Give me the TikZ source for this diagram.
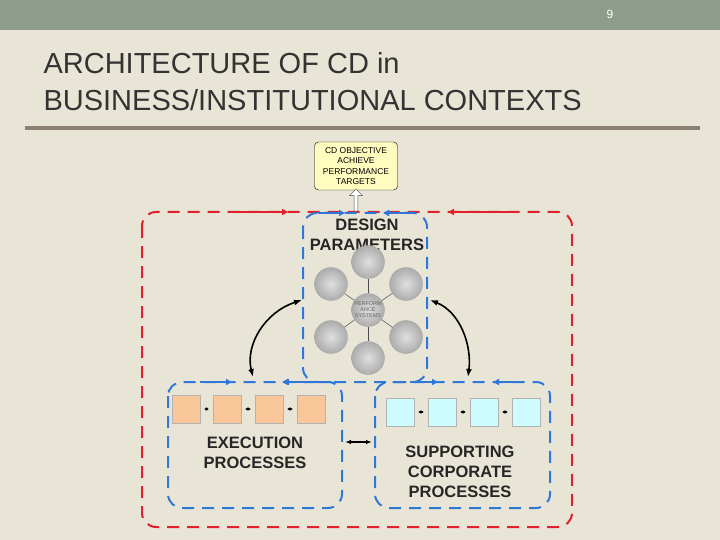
\documentclass[tikz,border=0pt]{standalone}
\usepackage{fontspec}
\setmainfont{Liberation Sans}
\usetikzlibrary{arrows.meta,shapes.arrows}
\definecolor{bg}{HTML}{E9E5D6}
\definecolor{bar}{HTML}{8E9C8C}
\definecolor{rule}{HTML}{8A8070}
\definecolor{dred}{HTML}{E0202A}
\definecolor{dblue}{HTML}{2F78D8}
\definecolor{orng}{HTML}{F9C79A}
\definecolor{cyn}{HTML}{CCFCFF}
\begin{document}
\begin{tikzpicture}[x=1pt,y=-1pt,
  reddash/.style={draw=dred,line width=2pt,dash pattern=on 12pt off 8pt,rounded corners=14pt},
  bluedash/.style={draw=dblue,line width=2pt,dash pattern=on 12pt off 8pt,rounded corners=14pt},
  ball/.style={circle,minimum size=33pt,inner sep=0pt,draw=gray!70,inner color=gray!25,outer color=gray!65},
  obox/.style={fill=orng,draw=gray!60,minimum width=28pt,minimum height=28pt,inner sep=0pt},
  cbox/.style={fill=cyn,draw=gray!60,minimum width=28pt,minimum height=28pt,inner sep=0pt},
  lbl/.style={font=\bfseries\fontsize{16.5}{20}\selectfont,align=center,text=black!85},
  barr/.style={-{Triangle[length=6pt,width=6pt]},dblue,line width=2pt},
  rarr/.style={-{Triangle[length=6pt,width=6pt]},dred,line width=2pt},
  link/.style={{Triangle[length=3pt,width=3pt]}-{Triangle[length=3pt,width=3pt]},black,line width=1pt,shorten <=4pt,shorten >=4pt},
  curv/.style={{Latex[length=8pt,width=6pt]}-{Latex[length=8pt,width=6pt]},black,line width=1.6pt}]
\fill[bg] (0,0) rectangle (720,540);
\useasboundingbox (0,0) rectangle (720,540);
\fill[bar] (0,0) rectangle (720,30);
\node[text=white,font=\fontsize{12}{14}\selectfont] (pg) at (610,14) {9};
\node[anchor=west,text=black!80,font=\fontsize{29}{37}\selectfont,align=left] (title) at (40,82) {ARCHITECTURE OF CD in\\BUSINESS/INSTITUTIONAL CONTEXTS};
\draw[rule,line width=4pt] (25,128) -- (700,128);
% outer red
\draw[reddash] (142,212) rectangle (572,527);
\draw[rarr] (230,212) -- (288,212);
\draw[rarr] (510,212) -- (448,212);
% design box
\draw[bluedash] (303,213) rectangle (427,382);
\draw[barr] (318,213) -- (345,213);
\draw[barr] (408,213) -- (383,213);
\draw[barr] (310,382) -- (282,382);
\draw[barr] (410,382) -- (438,382);
\node[lbl] (dp) at (367,235) {DESIGN\\PARAMETERS};
% objective
\node[draw=black,fill=yellow!25,rounded corners=4pt,minimum width=83pt,minimum height=48pt,align=center,font=\fontsize{8.5}{10.5}\selectfont,inner sep=1pt] (obj) at (356,166) {CD OBJECTIVE\\ACHIEVE\\PERFORMANCE\\TARGETS};
\node[single arrow,draw=black!70,fill=white,shape border rotate=90,minimum width=13pt,single arrow head extend=3pt,minimum height=22pt,inner sep=1pt] (up) at (356,201) {};
% balls
\node[ball] (c) at (368,310) {};
\node[font=\fontsize{5.5}{6}\selectfont,align=center,text=black!60] (ct) at (368,310) {PERFORM\\ANCE\\SYSTEMS};
\foreach \n/\x/\y in {t/368/262,ul/331/284,ur/406/284,ll/331/337,lr/406/337,b/368/358}{
  \node[ball] (\n) at (\x,\y) {};
  \draw[black!70,line width=0.5pt] (c) -- (\n);
}
% exec box
\draw[bluedash] (168,382) rectangle (342,508);
\draw[barr] (200,382) -- (232,382);
\draw[barr] (305,382) -- (283,382);
\foreach \i/\x in {1/186,2/227,3/269,4/311}{\node[obox] (o\i) at (\x,409) {};}
\draw[link] (o1) -- (o2); \draw[link] (o2) -- (o3); \draw[link] (o3) -- (o4);
\node[lbl] (ex) at (255,453) {EXECUTION\\PROCESSES};
% supporting box
\draw[bluedash] (375,382) rectangle (550,508);
\draw[barr] (520,382) -- (493,382);
\foreach \i/\x in {1/400,2/442,3/484,4/526}{\node[cbox] (s\i) at (\x,412) {};}
\draw[link] (s1) -- (s2); \draw[link] (s2) -- (s3); \draw[link] (s3) -- (s4);
\node[lbl] (sp) at (460,472) {SUPPORTING\\CORPORATE\\PROCESSES};
% connectors
\coordinate (el) at (345,442); \coordinate (er) at (372,442);
\draw[{Latex[length=6pt]}-{Latex[length=6pt]},line width=1.5pt] (el) -- (er);
\coordinate (la) at (302,300); \coordinate (lb) at (253,377);
\draw[curv] (la) .. controls (265,312) and (245,345) .. (lb);
\coordinate (ra) at (430,300); \coordinate (rb) at (468,377);
\draw[curv] (ra) .. controls (460,312) and (472,345) .. (rb);
\end{tikzpicture}
\end{document}
